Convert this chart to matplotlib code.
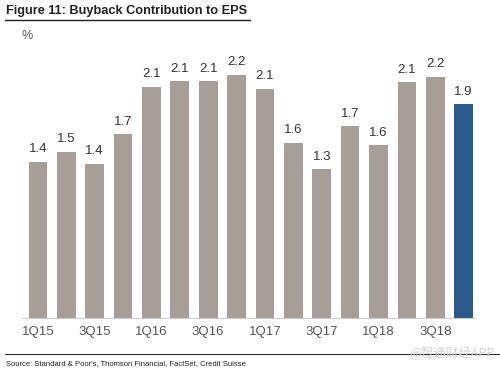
import numpy as np
import matplotlib
matplotlib.use('Agg')
import matplotlib.pyplot as plt
from matplotlib.lines import Line2D

plt.rcParams['font.family'] = ['Liberation Sans', 'DejaVu Sans']

# data
quarters = ['1Q15', '2Q15', '3Q15', '4Q15', '1Q16', '2Q16', '3Q16', '4Q16',
            '1Q17', '2Q17', '3Q17', '4Q17', '1Q18', '2Q18', '3Q18', '4Q18']
values = [1.42, 1.51, 1.40, 1.67, 2.10, 2.15, 2.15, 2.21,
          2.08, 1.59, 1.35, 1.74, 1.57, 2.14, 2.19, 1.94]
labels = ['1.4', '1.5', '1.4', '1.7', '2.1', '2.1', '2.1', '2.2',
          '2.1', '1.6', '1.3', '1.7', '1.6', '2.1', '2.2', '1.9']
tick_labels = ['1Q15', '3Q15', '1Q16', '3Q16', '1Q17', '3Q17', '1Q18', '3Q18']

grey = '#a69e97'
blue = '#2b5b8c'

fig = plt.figure(figsize=(5, 3.74), dpi=100)
ax = fig.add_axes([0.044, 0.1497, 0.906, 0.73])

x = np.arange(len(quarters))
colors = [grey] * (len(quarters) - 1) + [blue]
bars = ax.bar(x, values, width=0.66, color=colors)

for xi, v, lab in zip(x, values, labels):
    ax.text(xi, v + 0.06, lab, ha='center', va='bottom', fontsize=9.5, color='#333333')

ax.set_xlim(-0.56, 15.4)
ax.set_ylim(0, 2.48)
ax.set_xticks(x[::2])
ax.set_xticklabels(tick_labels, fontsize=9.5, color='#555555')
ax.tick_params(axis='x', length=0, pad=6)
ax.set_yticks([])
for s in ['top', 'right', 'left']:
    ax.spines[s].set_visible(False)
ax.spines['bottom'].set_color('#cccccc')
ax.spines['bottom'].set_linewidth(0.8)

# title and decorations
fig.text(0.012, 0.97, 'Figure 11: Buyback Contribution to EPS', fontsize=9.2, fontweight='bold',
         color='#222222', ha='left', va='center')
fig.add_artist(Line2D([0.01, 0.50], [0.946, 0.946], color='#222222', lw=1.0))
fig.text(0.044, 0.905, '%', fontsize=9, color='#555555', ha='left', va='center')

fig.add_artist(Line2D([0.01, 1.0], [0.054, 0.054], color='#333333', lw=0.8))
fig.text(0.012, 0.028, "Source: Standard & Poor's, Thomson Financial, FactSet, Credit Suisse",
         fontsize=5.5, color='#222222', ha='left', va='center')
fig.text(0.99, 0.058, '@智通财经APP', fontsize=9, color='#d4d4d4', ha='right', va='center',
         family=['Noto Sans CJK SC', 'DejaVu Sans'])

fig.savefig('out.png', dpi=100)
